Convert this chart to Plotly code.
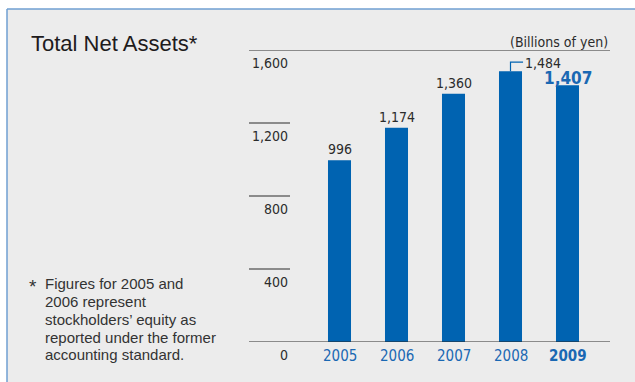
import plotly.graph_objects as go

# Total net assets, billions of yen
years = ["2005", "2006", "2007", "2008", "2009"]
net_assets = [996, 1174, 1360, 1484, 1407]
y_ticks = [0, 400, 800, 1200, 1600]
y_tick_labels = ["0", "400", "800", "1,200", "1,600"]
value_labels = ["996", "1,174", "1,360", "1,484", "1,407"]
footnote_lines = [
    "Figures for 2005 and",
    "2006 represent",
    "stockholders’ equity as",
    "reported under the former",
    "accounting standard.",
]

W, H = 635, 382
ML, MR, MT, MB = 249, 25, 50, 40
PW, PH = W - ML - MR, H - MT - MB

BAR = "#0063b1"
YEAR_BLUE = "#1a68b3"
DARK = "#2b2b2b"
NARROW = "Liberation Sans Narrow, DejaVu Sans Condensed, Arial Narrow, sans-serif"
SANS = "Liberation Sans, Arial, Helvetica, sans-serif"


def px_x(px):
    return (px - ML) / PW


def px_y(py):
    return (H - MB - py) / PH


xs = list(range(len(years)))
px_per_unit = PH / 1600.0

fig = go.Figure(
    go.Bar(x=xs, y=net_assets, width=0.404, marker=dict(color=BAR, line=dict(width=0)),
           hoverinfo="skip")
)

shapes = []
# panel background with blue frame
shapes.append(dict(type="rect", xref="paper", yref="paper", x0=px_x(7), x1=px_x(700),
                   y0=px_y(450), y1=px_y(9), fillcolor="#ececec", line=dict(width=0),
                   layer="below"))
shapes.append(dict(type="line", xref="paper", yref="paper", x0=px_x(7), x1=px_x(700),
                   y0=px_y(9), y1=px_y(9), line=dict(color="#6f9fd2", width=1.5), layer="below"))
shapes.append(dict(type="line", xref="paper", yref="paper", x0=px_x(7), x1=px_x(7),
                   y0=px_y(9), y1=px_y(450), line=dict(color="#6f9fd2", width=1.5), layer="below"))

# scale rules: full width at 0 and 1,600, short stubs between
for v in y_ticks:
    x1 = 1 if v in (0, 1600) else px_x(290)
    shapes.append(dict(type="line", xref="paper", yref="y", x0=0, x1=x1, y0=v, y1=v,
                       line=dict(color=DARK, width=1.2)))

# bracket pointing at the 2008 value
i08 = years.index("2008")
lift = 9 / px_per_unit
shapes.append(dict(type="path", xref="x", yref="y",
                   path=f"M {i08} {net_assets[i08]} L {i08} {net_assets[i08] + lift} "
                        f"L {i08 + 0.22} {net_assets[i08] + lift}",
                   line=dict(color=BAR, width=1.2)))

annotations = []
for v, lab in zip(y_ticks, y_tick_labels):
    annotations.append(dict(x=px_x(290), y=v, xref="paper", yref="y", text=lab,
                            xanchor="right", yanchor="top", yshift=-3, showarrow=False,
                            font=dict(family=NARROW, size=14, color=DARK)))

for i, (yr, v, lab) in enumerate(zip(years, net_assets, value_labels)):
    last = i == len(years) - 1
    annotations.append(dict(x=i, y=0, xref="x", yref="y",
                            text=f"<b>{yr}</b>" if last else yr,
                            xanchor="center", yanchor="top", yshift=-3, showarrow=False,
                            font=dict(family=NARROW, size=15, color=YEAR_BLUE)))
    if last:
        annotations.append(dict(x=i, y=v, xref="x", yref="y", text=f"<b>{lab}</b>",
                                xanchor="center", yanchor="bottom", yshift=-4, showarrow=False,
                                borderpad=0,
                                font=dict(family=NARROW, size=17, color=YEAR_BLUE)))
    elif yr == "2008":
        annotations.append(dict(x=i + 0.23, y=v + lift, xref="x", yref="y", text=lab,
                                xanchor="left", yanchor="middle", yshift=-1, showarrow=False,
                                borderpad=0,
                                font=dict(family=NARROW, size=14, color=DARK)))
    else:
        annotations.append(dict(x=i, y=v, xref="x", yref="y", text=lab,
                                xanchor="center", yanchor="bottom", yshift=1, showarrow=False,
                                font=dict(family=NARROW, size=14, color=DARK)))

annotations.append(dict(x=px_x(29), y=px_y(43), xref="paper", yref="paper",
                        text="Total Net Assets*", xanchor="left", yanchor="middle",
                        showarrow=False, font=dict(family=SANS, size=22, color="#1e1b1c")))
annotations.append(dict(x=1, y=px_y(42), xref="paper", yref="paper",
                        text="(Billions of yen)", xanchor="right", yanchor="middle",
                        showarrow=False, font=dict(family=NARROW, size=14, color=DARK)))

annotations.append(dict(x=px_x(27), y=px_y(286), xref="paper", yref="paper", text="*",
                        xanchor="left", yanchor="middle", showarrow=False,
                        font=dict(family=SANS, size=19, color="#333333")))
line_centers = [283, 301, 319, 337, 354.5]
for txt, cy in zip(footnote_lines, line_centers):
    annotations.append(dict(x=px_x(43), y=px_y(cy), xref="paper", yref="paper", text=txt,
                            xanchor="left", yanchor="middle", showarrow=False,
                            font=dict(family=SANS, size=15, color="#333333")))

x_lo = (ML - 339.5) / 57
x_hi = (W - MR - 339.5) / 57

fig.update_layout(
    width=W, height=H,
    margin=dict(l=ML, r=MR, t=MT, b=MB, pad=0),
    paper_bgcolor="white",
    plot_bgcolor="rgba(0,0,0,0)",
    showlegend=False,
    xaxis=dict(range=[x_lo, x_hi], visible=False, fixedrange=True),
    yaxis=dict(range=[0, 1600], visible=False, fixedrange=True),
    shapes=shapes,
    annotations=annotations,
)

fig.write_html("out.html", config={"displayModeBar": False})
